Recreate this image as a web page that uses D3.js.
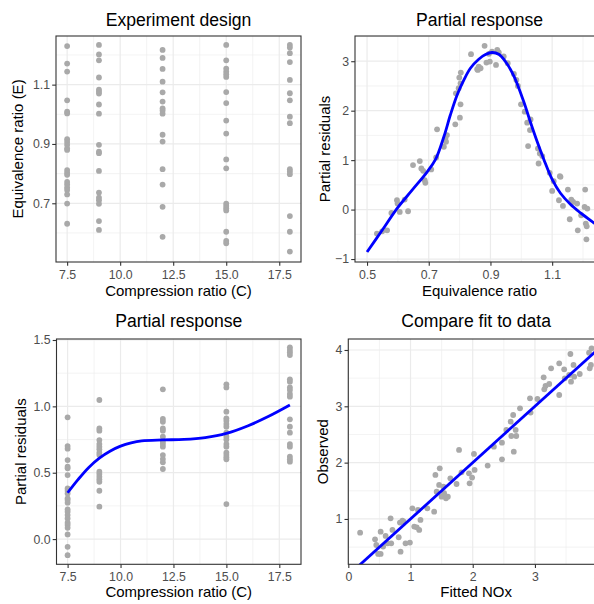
<!DOCTYPE html>
<html>
<head>
<meta charset="utf-8">
<script src="https://cdnjs.cloudflare.com/ajax/libs/d3/7.8.5/d3.min.js"></script>
<style>
  body { margin: 0; background: #fff; }
  text { font-family: "Liberation Sans", Arial, sans-serif; }
</style>
</head>
<body>
<script>
// ---- data ----
var cLevels = [7.5, 9, 12, 15, 18];

// equivalence ratio of each run, grouped by compression ratio
var designE = [
  [1.230, 1.171, 1.144, 1.047, 1.009, 1.003, 0.916, 0.907, 0.897, 0.885, 0.880, 0.812, 0.803, 0.796, 0.772, 0.763, 0.753, 0.745, 0.730, 0.699, 0.631],
  [1.234, 1.202, 1.182, 1.124, 1.083, 1.076, 1.070, 1.033, 1.002, 0.897, 0.874, 0.869, 0.809, 0.736, 0.719, 0.710, 0.698, 0.640, 0.610],
  [1.217, 1.190, 1.153, 1.110, 1.074, 1.043, 1.020, 1.013, 1.002, 0.931, 0.908, 0.815, 0.763, 0.688, 0.587],
  [1.234, 1.182, 1.154, 1.144, 1.135, 1.126, 1.075, 1.038, 0.979, 0.935, 0.848, 0.818, 0.699, 0.691, 0.683, 0.676, 0.604, 0.573, 0.565],
  [1.234, 1.225, 1.206, 1.176, 1.116, 1.071, 1.047, 0.992, 0.970, 0.815, 0.807, 0.798, 0.657, 0.604, 0.537]
];

// partial residuals for C, grouped by compression ratio
var partialC = [
  [0.917, 0.701, 0.681, 0.595, 0.545, 0.533, 0.482, 0.382, 0.364, 0.344, 0.307, 0.294, 0.274, 0.224, 0.206, 0.181, 0.156, 0.123, 0.106, 0.085, 0.035, -0.058, -0.121],
  [1.048, 0.834, 0.817, 0.746, 0.716, 0.696, 0.676, 0.651, 0.633, 0.508, 0.490, 0.470, 0.450, 0.432, 0.364, 0.244],
  [1.128, 0.905, 0.884, 0.834, 0.817, 0.771, 0.734, 0.716, 0.696, 0.633, 0.603, 0.578, 0.528],
  [1.166, 1.143, 0.960, 0.910, 0.892, 0.867, 0.847, 0.802, 0.771, 0.751, 0.716, 0.696, 0.651, 0.633, 0.616, 0.601, 0.264],
  [1.445, 1.425, 1.407, 1.387, 1.204, 1.186, 1.143, 1.123, 1.093, 1.073, 0.902, 0.847, 0.802, 0.716, 0.696, 0.621, 0.601, 0.583]
];

// [E, partial residual]
var partialE = [
  [0.532, -0.486], [0.549, -0.439], [0.565, -0.419], [0.579, -0.068], [0.597, 0.189], [0.599, 0.122],
  [0.606, -0.047], [0.622, 0.203], [0.633, -0.034], [0.649, 0.899], [0.671, 0.980], [0.676, 0.831],
  [0.682, 0.784], [0.687, 0.595], [0.689, 0.541], [0.708, 0.811], [0.724, 1.054], [0.727, 1.622],
  [0.749, 1.270], [0.754, 1.443], [0.756, 1.372], [0.759, 1.507], [0.786, 1.723], [0.788, 2.351],
  [0.797, 2.453], [0.799, 2.669], [0.803, 2.554], [0.804, 2.770], [0.803, 2.128], [0.801, 1.858],
  [0.837, 3.142], [0.857, 2.838], [0.859, 2.824], [0.862, 2.892], [0.868, 2.858], [0.881, 3.311],
  [0.887, 2.973], [0.895, 3.149], [0.898, 2.993], [0.905, 3.196], [0.918, 2.926], [0.922, 3.230],
  [0.927, 3.176], [0.943, 3.095], [0.956, 2.959], [0.976, 2.743], [0.984, 2.622], [0.989, 2.500],
  [0.999, 2.128], [1.011, 1.980], [1.019, 1.757], [1.022, 1.284], [1.030, 1.824], [1.028, 1.608],
  [1.054, 1.236], [1.056, 0.932], [1.060, 1.135], [1.068, 1.081], [1.092, 0.743], [1.100, 0.378],
  [1.105, 0.574], [1.122, 0.189], [1.125, 0.676], [1.127, 0.662], [1.135, 0.074], [1.151, 0.405],
  [1.157, -0.196], [1.162, 0.203], [1.168, 0.155], [1.181, 0.122], [1.183, -0.419], [1.194, -0.115],
  [1.205, 0.054], [1.207, 0.405], [1.209, -0.284], [1.211, -0.601], [1.212, -0.338], [1.214, 0.020]
];

// [fitted, observed]
var fitObs = [
  [0.19, 0.757], [0.43, 0.639], [0.45, 0.538], [0.48, 0.379], [0.52, 0.775], [0.52, 0.379], [0.56, 0.509],
  [0.60, 0.698], [0.63, 0.568], [0.68, 1.012], [0.69, 0.568], [0.71, 0.805], [0.81, 0.675], [0.83, 0.935],
  [0.84, 0.420], [0.87, 0.970], [0.89, 0.953], [0.92, 0.568], [0.99, 0.580], [1.03, 1.189], [1.06, 0.864],
  [1.10, 0.852], [1.12, 1.160], [1.14, 0.805], [1.16, 0.982], [1.27, 1.189], [1.38, 1.130], [1.40, 1.781],
  [1.42, 1.485], [1.46, 1.604], [1.47, 1.899], [1.50, 1.396], [1.53, 1.574], [1.54, 1.456], [1.57, 1.367],
  [1.60, 1.396], [1.64, 1.722], [1.74, 1.621], [1.78, 2.225], [1.82, 1.828], [1.94, 1.811], [1.95, 1.633],
  [1.99, 1.734], [2.02, 2.154], [2.03, 1.870], [2.24, 1.947], [2.34, 2.284], [2.47, 2.355], [2.47, 2.059],
  [2.54, 2.580], [2.61, 2.728], [2.62, 2.473], [2.65, 2.846], [2.66, 2.195], [2.69, 2.580], [2.70, 2.473],
  [2.76, 2.964], [2.92, 3.142], [2.93, 2.888], [3.04, 3.130], [3.14, 3.515], [3.15, 3.302], [3.17, 3.361],
  [3.23, 3.396], [3.26, 3.675], [3.39, 3.763], [3.39, 3.201], [3.47, 3.657], [3.48, 3.497], [3.55, 3.556],
  [3.57, 3.929], [3.58, 3.438], [3.62, 3.734], [3.63, 3.527], [3.72, 3.574], [3.87, 3.953], [3.88, 3.675],
  [3.90, 3.734], [3.91, 4.030]
];

// smooth terms
var curveE = [
  [0.500, -0.858], [0.549, -0.419], [0.597, 0.020], [0.646, 0.392], [0.695, 0.764], [0.722, 1.014],
  [0.749, 1.473], [0.770, 1.912], [0.792, 2.318], [0.814, 2.622], [0.835, 2.858], [0.862, 3.040],
  [0.884, 3.135], [0.905, 3.176], [0.927, 3.140], [0.949, 2.990], [0.976, 2.700], [1.008, 2.180],
  [1.030, 1.760], [1.051, 1.380], [1.073, 1.014], [1.100, 0.610], [1.127, 0.330], [1.159, 0.108],
  [1.192, -0.068], [1.235, -0.270], [1.257, -0.370]
];
var curveC = [
  [7.5, 0.349], [8.0, 0.450], [8.5, 0.540], [9.0, 0.610], [9.5, 0.662], [10.0, 0.700], [10.5, 0.725],
  [11.0, 0.740], [12.0, 0.747], [13.0, 0.751], [14.0, 0.765], [15.0, 0.796], [16.0, 0.852],
  [17.0, 0.925], [18.0, 1.010]
];
var identity = [[0, 0], [4.4, 4.4]];

// ---- drawing ----
var W = 594, H = 604;
var svg = d3.select("body").append("svg").attr("width", W).attr("height", H);

function panel(p) {
  var x = d3.scaleLinear().domain(p.xDom).range([p.left, p.right]);
  var y = d3.scaleLinear().domain(p.yDom).range([p.bottom, p.top]);
  var g = svg.append("g");

  g.append("clipPath").attr("id", "clip" + p.id).append("rect")
    .attr("x", p.left).attr("y", p.top)
    .attr("width", p.right - p.left).attr("height", p.bottom - p.top);

  var grid = g.append("g");
  grid.selectAll(".xm").data(p.xMinor).enter().append("line")
    .attr("x1", x).attr("x2", x).attr("y1", p.top).attr("y2", p.bottom)
    .attr("stroke", "#ebebeb").attr("stroke-width", 0.6);
  grid.selectAll(".ym").data(p.yMinor).enter().append("line")
    .attr("y1", y).attr("y2", y).attr("x1", p.left).attr("x2", p.right)
    .attr("stroke", "#ebebeb").attr("stroke-width", 0.6);
  grid.selectAll(".xM").data(p.xTicks).enter().append("line")
    .attr("x1", x).attr("x2", x).attr("y1", p.top).attr("y2", p.bottom)
    .attr("stroke", "#ebebeb").attr("stroke-width", 1.2);
  grid.selectAll(".yM").data(p.yTicks).enter().append("line")
    .attr("y1", y).attr("y2", y).attr("x1", p.left).attr("x2", p.right)
    .attr("stroke", "#ebebeb").attr("stroke-width", 1.2);

  var marks = g.append("g").attr("clip-path", "url(#clip" + p.id + ")");
  marks.selectAll("circle").data(p.points).enter().append("circle")
    .attr("cx", function(d) { return x(d[0]); })
    .attr("cy", function(d) { return y(d[1]); })
    .attr("r", 2.9)
    .attr("fill", "#a9a9a9");
  if (p.line) {
    marks.append("path").datum(p.line)
      .attr("d", d3.line()
        .x(function(d) { return x(d[0]); })
        .y(function(d) { return y(d[1]); })
        .curve(d3.curveCatmullRom.alpha(0.5)))
      .attr("fill", "none").attr("stroke", "#0000ff").attr("stroke-width", 2.8);
  }

  var xa = g.append("g").attr("transform", "translate(0," + p.bottom + ")")
    .call(d3.axisBottom(x).tickValues(p.xTicks).tickFormat(p.xFmt).tickSize(3.8).tickPadding(4.3));
  var ya = g.append("g").attr("transform", "translate(" + p.left + ",0)")
    .call(d3.axisLeft(y).tickValues(p.yTicks).tickFormat(p.yFmt).tickSize(3.8).tickPadding(2.2));
  [xa, ya].forEach(function(a) {
    a.select(".domain").remove();
    a.selectAll(".tick line").attr("stroke", "#333").attr("stroke-width", 1.1);
    a.selectAll(".tick text").attr("fill", "#4d4d4d").attr("font-size", 12.3)
      .attr("font-family", "Liberation Sans, Arial, sans-serif");
  });

  g.append("rect")
    .attr("x", p.left).attr("y", p.top)
    .attr("width", p.right - p.left).attr("height", p.bottom - p.top)
    .attr("fill", "none").attr("stroke", "#333").attr("stroke-width", 1.1);

  g.append("text").attr("x", (p.left + p.right) / 2).attr("y", p.titleY)
    .attr("text-anchor", "middle").attr("font-size", 17.6).text(p.title);
  g.append("text").attr("x", (p.left + p.right) / 2).attr("y", p.xlabY)
    .attr("text-anchor", "middle").attr("font-size", 15).text(p.xlab);
  g.append("text")
    .attr("transform", "translate(" + p.ylabX + "," + (p.top + p.bottom) / 2 + ") rotate(-90)")
    .attr("text-anchor", "middle").attr("font-size", 15).text(p.ylab);
}

var designPts = [], partialCPts = [];
cLevels.forEach(function(c, i) {
  designE[i].forEach(function(e) { designPts.push([c, e]); });
  partialC[i].forEach(function(r) { partialCPts.push([c, r]); });
});

var f1 = d3.format(".1f");

panel({
  id: 1, left: 56, right: 301, top: 36, bottom: 262,
  xDom: [6.975, 18.525], yDom: [0.502, 1.264],
  xTicks: [7.5, 10, 12.5, 15, 17.5], xMinor: [8.75, 11.25, 13.75, 16.25], xFmt: f1,
  yTicks: [0.7, 0.9, 1.1], yMinor: [0.6, 0.8, 1.0, 1.2], yFmt: f1,
  points: designPts,
  title: "Experiment design", xlab: "Compression ratio (C)", ylab: "Equivalence ratio (E)",
  titleY: 25.7, xlabY: 296, ylabX: 23
});

panel({
  id: 2, left: 355, right: 604, top: 36, bottom: 262,
  xDom: [0.461, 1.268], yDom: [-1.06, 3.51],
  xTicks: [0.5, 0.7, 0.9, 1.1], xMinor: [0.6, 0.8, 1.0, 1.2], xFmt: f1,
  yTicks: [-1, 0, 1, 2, 3], yMinor: [-0.5, 0.5, 1.5, 2.5, 3.5], yFmt: d3.format("d"),
  points: partialE, line: curveE,
  title: "Partial response", xlab: "Equivalence ratio", ylab: "Partial residuals",
  titleY: 25.7, xlabY: 296, ylabX: 330
});

panel({
  id: 3, left: 56.5, right: 301, top: 339, bottom: 564.3,
  xDom: [6.975, 18.525], yDom: [-0.19, 1.5075],
  xTicks: [7.5, 10, 12.5, 15, 17.5], xMinor: [8.75, 11.25, 13.75, 16.25], xFmt: f1,
  yTicks: [0, 0.5, 1, 1.5], yMinor: [0.25, 0.75, 1.25], yFmt: f1,
  points: partialCPts, line: curveC,
  title: "Partial response", xlab: "Compression ratio (C)", ylab: "Partial residuals",
  titleY: 326.7, xlabY: 596.7, ylabX: 25.5
});

panel({
  id: 4, left: 348.3, right: 604, top: 339, bottom: 564.3,
  xDom: [0, 4.11], yDom: [0.195, 4.195],
  xTicks: [0, 1, 2, 3, 4], xMinor: [0.5, 1.5, 2.5, 3.5], xFmt: d3.format("d"),
  yTicks: [1, 2, 3, 4], yMinor: [0.5, 1.5, 2.5, 3.5], yFmt: d3.format("d"),
  points: fitObs, line: identity,
  title: "Compare fit to data", xlab: "Fitted NOx", ylab: "Observed",
  titleY: 326.7, xlabY: 596.7, ylabX: 327.5
});
</script>
</body>
</html>
